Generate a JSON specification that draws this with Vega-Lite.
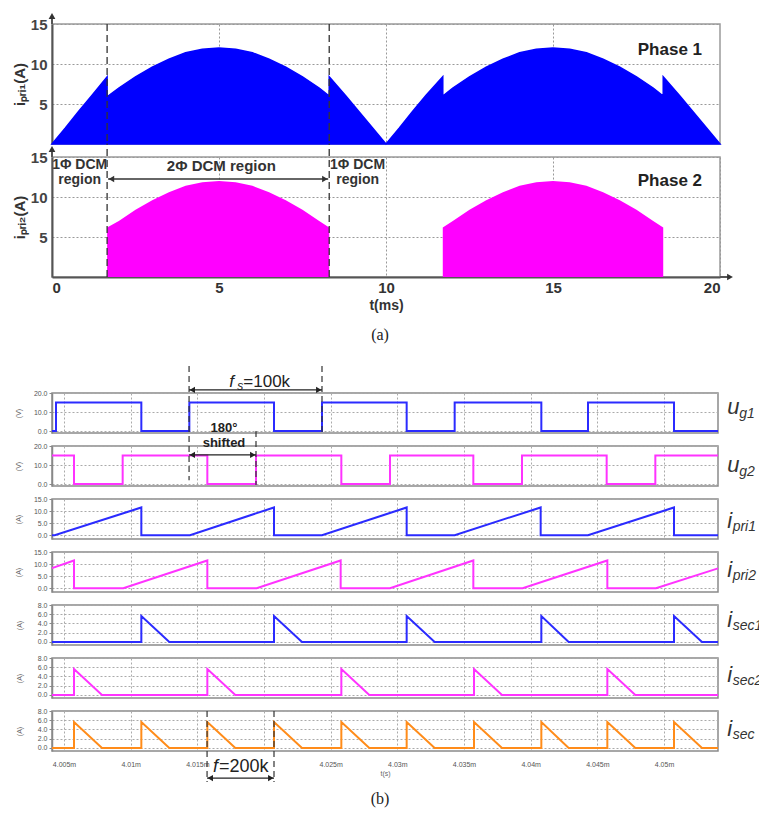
{
"$schema": "https://vega.github.io/schema/vega-lite/v6.json",
"background": "white",
"padding": {"left": 11, "top": 12, "right": 0, "bottom": 0},
"bounds": "flush",
"spacing": 13,
"config": {"font": "Liberation Sans", "view": {"stroke": null}},
"datasets": {
 "p1": [{"t":0,"v":0},{"t":0.4,"v":2.0},{"t":0.8,"v":4.1},{"t":1.2,"v":6.1},{"t":1.65,"v":8.4},{"t":1.65,"v":5.9},{"t":2.0,"v":7.0},{"t":2.5,"v":8.4},{"t":3.0,"v":9.6},{"t":3.5,"v":10.6},{"t":4.0,"v":11.4},{"t":4.5,"v":11.85},{"t":5.0,"v":12.0},{"t":5.5,"v":11.85},{"t":6.0,"v":11.4},{"t":6.5,"v":10.6},{"t":7.0,"v":9.6},{"t":7.5,"v":8.4},{"t":8.0,"v":7.0},{"t":8.3,"v":6.0},{"t":8.3,"v":8.4},{"t":8.8,"v":6.0},{"t":9.4,"v":3.0},{"t":10.0,"v":0},{"t":10.4,"v":2.0},{"t":10.8,"v":4.1},{"t":11.2,"v":6.1},{"t":11.7,"v":8.4},{"t":11.7,"v":6.0},{"t":12.0,"v":7.0},{"t":12.5,"v":8.4},{"t":13.0,"v":9.6},{"t":13.5,"v":10.6},{"t":14.0,"v":11.4},{"t":14.5,"v":11.85},{"t":15.0,"v":12.0},{"t":15.5,"v":11.85},{"t":16.0,"v":11.4},{"t":16.5,"v":10.6},{"t":17.0,"v":9.6},{"t":17.5,"v":8.4},{"t":18.0,"v":7.0},{"t":18.3,"v":6.0},{"t":18.3,"v":8.4},{"t":18.8,"v":6.0},{"t":19.4,"v":3.0},{"t":20.0,"v":0}],
 "p2": [{"t":0,"v":0},{"t":1.65,"v":0},{"t":1.65,"v":6.2},{"t":2.0,"v":7.0},{"t":2.5,"v":8.4},{"t":3.0,"v":9.6},{"t":3.5,"v":10.6},{"t":4.0,"v":11.4},{"t":4.5,"v":11.85},{"t":5.0,"v":12.0},{"t":5.5,"v":11.85},{"t":6.0,"v":11.4},{"t":6.5,"v":10.6},{"t":7.0,"v":9.6},{"t":7.5,"v":8.4},{"t":8.0,"v":7.0},{"t":8.3,"v":6.2},{"t":8.3,"v":0},{"t":11.7,"v":0},{"t":11.7,"v":6.2},{"t":12.0,"v":7.0},{"t":12.5,"v":8.4},{"t":13.0,"v":9.6},{"t":13.5,"v":10.6},{"t":14.0,"v":11.4},{"t":14.5,"v":11.85},{"t":15.0,"v":12.0},{"t":15.5,"v":11.85},{"t":16.0,"v":11.4},{"t":16.5,"v":10.6},{"t":17.0,"v":9.6},{"t":17.5,"v":8.4},{"t":18.0,"v":7.0},{"t":18.3,"v":6.2},{"t":18.3,"v":0},{"t":20,"v":0}],
 "ug1": [{"t":4004.1,"v":0},{"t":4004.4,"v":15},{"t":4010.8,"v":0},{"t":4014.4,"v":15},{"t":4020.75,"v":0},{"t":4024.35,"v":15},{"t":4030.7,"v":0},{"t":4034.3,"v":15},{"t":4040.8,"v":0},{"t":4044.3,"v":15},{"t":4050.75,"v":0},{"t":4054.05,"v":0}],
 "ug2": [{"t":4004.1,"v":15},{"t":4005.75,"v":0},{"t":4009.4,"v":15},{"t":4015.75,"v":0},{"t":4019.4,"v":15},{"t":4025.8,"v":0},{"t":4029.45,"v":15},{"t":4035.7,"v":0},{"t":4039.35,"v":15},{"t":4045.7,"v":0},{"t":4049.35,"v":15},{"t":4054.05,"v":15}],
 "ipri1": [{"t":4004.1,"v":0},{"t":4004.3,"v":0},{"t":4010.8,"v":11.5},{"t":4010.8,"v":0},{"t":4014.45,"v":0},{"t":4020.75,"v":11.5},{"t":4020.75,"v":0},{"t":4024.35,"v":0},{"t":4030.7,"v":11.5},{"t":4030.7,"v":0},{"t":4034.3,"v":0},{"t":4040.75,"v":11.5},{"t":4040.75,"v":0},{"t":4044.3,"v":0},{"t":4050.75,"v":11.5},{"t":4050.75,"v":0},{"t":4054.05,"v":0}],
 "ipri2": [{"t":4004.1,"v":8.3},{"t":4005.75,"v":11.5},{"t":4005.75,"v":0},{"t":4009.45,"v":0},{"t":4015.75,"v":11.5},{"t":4015.75,"v":0},{"t":4019.45,"v":0},{"t":4025.75,"v":11.5},{"t":4025.75,"v":0},{"t":4029.45,"v":0},{"t":4035.7,"v":11.5},{"t":4035.7,"v":0},{"t":4039.4,"v":0},{"t":4045.75,"v":11.5},{"t":4045.75,"v":0},{"t":4049.4,"v":0},{"t":4054.05,"v":8.2}],
 "isec1": [{"t":4004.1,"v":0},{"t":4010.8,"v":0},{"t":4010.8,"v":5.6},{"t":4012.9,"v":0},{"t":4020.75,"v":0},{"t":4020.75,"v":5.6},{"t":4022.85,"v":0},{"t":4030.7,"v":0},{"t":4030.7,"v":5.6},{"t":4032.8,"v":0},{"t":4040.8,"v":0},{"t":4040.8,"v":5.6},{"t":4042.85,"v":0},{"t":4050.75,"v":0},{"t":4050.75,"v":5.6},{"t":4052.85,"v":0},{"t":4054.05,"v":0}],
 "isec2": [{"t":4004.1,"v":0},{"t":4005.75,"v":0},{"t":4005.75,"v":5.6},{"t":4007.85,"v":0},{"t":4015.75,"v":0},{"t":4015.75,"v":5.6},{"t":4017.85,"v":0},{"t":4025.8,"v":0},{"t":4025.8,"v":5.6},{"t":4027.9,"v":0},{"t":4035.75,"v":0},{"t":4035.75,"v":5.6},{"t":4037.85,"v":0},{"t":4045.75,"v":0},{"t":4045.75,"v":5.6},{"t":4047.85,"v":0},{"t":4054.05,"v":0}],
 "isec": [{"t":4004.1,"v":0},{"t":4005.75,"v":0},{"t":4005.75,"v":5.6},{"t":4007.85,"v":0},{"t":4010.8,"v":0},{"t":4010.8,"v":5.6},{"t":4012.9,"v":0},{"t":4015.75,"v":0},{"t":4015.75,"v":5.6},{"t":4017.85,"v":0},{"t":4020.75,"v":0},{"t":4020.75,"v":5.6},{"t":4022.85,"v":0},{"t":4025.8,"v":0},{"t":4025.8,"v":5.6},{"t":4027.9,"v":0},{"t":4030.7,"v":0},{"t":4030.7,"v":5.6},{"t":4032.8,"v":0},{"t":4035.75,"v":0},{"t":4035.75,"v":5.6},{"t":4037.85,"v":0},{"t":4040.8,"v":0},{"t":4040.8,"v":5.6},{"t":4042.85,"v":0},{"t":4045.75,"v":0},{"t":4045.75,"v":5.6},{"t":4047.85,"v":0},{"t":4050.75,"v":0},{"t":4050.75,"v":5.6},{"t":4052.85,"v":0},{"t":4054.05,"v":0}]
},
"vconcat": [
 {
  "width": 668, "height": 120,
  "view": {"stroke": "#9a9a9a", "strokeWidth": 1.5},
  "layer": [
   {"data": {"name": "p1"},
    "mark": {"type": "area", "color": "#0000ff", "stroke": "#0000ff", "strokeWidth": 1.5, "fillOpacity": 1},
    "encoding": {
     "x": {"field": "t", "type": "quantitative", "scale": {"domain": [0, 20], "nice": false},
      "axis": {"values": [5, 10, 15], "tickCount": 20, "grid": true, "gridColor": "#999", "gridDash": [2, 2], "labels": false, "ticks": false, "domain": false, "title": null}},
     "y": {"field": "v", "type": "quantitative", "stack": null, "scale": {"domain": [0, 15], "nice": false},
      "axis": {"values": [5, 10, 15], "tickCount": 10, "grid": true, "gridColor": "#999", "gridDash": [2, 2], "ticks": false, "labelFontSize": 15, "labelFontWeight": "bold", "labelColor": "#444", "labelPadding": 5, "domainColor": "#555", "domainWidth": 2, "title": "iₚᵣᵢ₁(A)", "titleFontSize": 15, "titleFontWeight": "bold", "titleColor": "#333", "titlePadding": 3}},
     "order": {"value": null}}},
   {"data": {"values": [{"t": 1.65}, {"t": 8.3}]},
    "mark": {"type": "rule", "color": "#333", "strokeDash": [7, 4], "strokeWidth": 1.3},
    "encoding": {"x": {"field": "t", "type": "quantitative"}}},
   {"data": {"values": [{"t": 0, "v": 15, "v2": 16}]},
    "mark": {"type": "rule", "color": "#555", "strokeWidth": 2},
    "encoding": {"x": {"field": "t", "type": "quantitative"}, "y": {"field": "v", "type": "quantitative"}, "y2": {"field": "v2"}}},
   {"data": {"values": [{"t": 0, "v": 16}]},
    "mark": {"type": "point", "shape": "triangle-up", "filled": true, "color": "#333", "size": 45, "opacity": 1},
    "encoding": {"x": {"field": "t", "type": "quantitative"}, "y": {"field": "v", "type": "quantitative"}}},
   {"data": {"values": [{"t": 18.5, "v": 11.75, "label": "Phase 1"}]},
    "mark": {"type": "text", "fontSize": 17, "fontWeight": "bold", "color": "#222", "align": "center", "baseline": "middle"},
    "encoding": {"x": {"field": "t", "type": "quantitative"}, "y": {"field": "v", "type": "quantitative"}, "text": {"field": "label"}}}
  ]
 },
 {
  "width": 668, "height": 120,
  "view": {"stroke": "#9a9a9a", "strokeWidth": 1.5},
  "layer": [
   {"data": {"name": "p2"},
    "mark": {"type": "area", "color": "#ff00ff", "fillOpacity": 1},
    "encoding": {
     "x": {"field": "t", "type": "quantitative", "scale": {"domain": [0, 20], "nice": false},
      "axis": {"values": [0, 5, 10, 15, 20], "tickCount": 20, "grid": true, "gridColor": "#999", "gridDash": [2, 2], "ticks": false, "labelFontSize": 15, "labelFontWeight": "bold", "labelColor": "#333", "labelPadding": 3, "domainColor": "#555", "domainWidth": 2, "title": "t(ms)", "titleFontSize": 14, "titleFontWeight": "bold", "titleColor": "#333", "titlePadding": 3}},
     "y": {"field": "v", "type": "quantitative", "stack": null, "scale": {"domain": [0, 15], "nice": false},
      "axis": {"values": [5, 10, 15], "tickCount": 10, "grid": true, "gridColor": "#999", "gridDash": [2, 2], "ticks": false, "labelFontSize": 15, "labelFontWeight": "bold", "labelColor": "#444", "labelPadding": 5, "domainColor": "#555", "domainWidth": 2, "title": "iₚᵣᵢ₂(A)", "titleFontSize": 15, "titleFontWeight": "bold", "titleColor": "#333", "titlePadding": 3}},
     "order": {"value": null}}},
   {"data": {"values": [{"t": 1.65, "v": 0, "v2": 16.7}, {"t": 8.3, "v": 0, "v2": 16.7}]},
    "mark": {"type": "rule", "color": "#333", "strokeDash": [7, 4], "strokeWidth": 1.3},
    "encoding": {"x": {"field": "t", "type": "quantitative"}, "y": {"field": "v", "type": "quantitative"}, "y2": {"field": "v2"}}},
   {"data": {"values": [{"t": 0, "v": 15, "v2": 16}]},
    "mark": {"type": "rule", "color": "#555", "strokeWidth": 2},
    "encoding": {"x": {"field": "t", "type": "quantitative"}, "y": {"field": "v", "type": "quantitative"}, "y2": {"field": "v2"}}},
   {"data": {"values": [{"t": 20, "t2": 20.3, "v": 0}]},
    "mark": {"type": "rule", "color": "#555", "strokeWidth": 2},
    "encoding": {"x": {"field": "t", "type": "quantitative"}, "x2": {"field": "t2"}, "y": {"field": "v", "type": "quantitative"}}},
   {"data": {"values": [{"t": 0, "v": 16, "shape": "triangle-up"}, {"t": 20.3, "v": 0, "shape": "triangle-right"}]},
    "mark": {"type": "point", "filled": true, "color": "#333", "size": 45, "opacity": 1},
    "encoding": {"x": {"field": "t", "type": "quantitative"}, "y": {"field": "v", "type": "quantitative"}, "shape": {"field": "shape", "type": "nominal", "scale": null}}},
   {"data": {"values": [{"t": 1.68, "t2": 8.27, "v": 12.25}]},
    "mark": {"type": "rule", "color": "#333", "strokeWidth": 1.3},
    "encoding": {"x": {"field": "t", "type": "quantitative"}, "x2": {"field": "t2"}, "y": {"field": "v", "type": "quantitative"}}},
   {"data": {"values": [{"t": 1.78, "v": 12.25, "shape": "triangle-left"}, {"t": 8.17, "v": 12.25, "shape": "triangle-right"}]},
    "mark": {"type": "point", "filled": true, "color": "#333", "size": 40, "opacity": 1},
    "encoding": {"x": {"field": "t", "type": "quantitative"}, "y": {"field": "v", "type": "quantitative"}, "shape": {"field": "shape", "type": "nominal", "scale": null}}},
   {"data": {"values": [{"t": 0.83, "v": 14.05, "label": "1Φ DCM"}, {"t": 0.83, "v": 12.1, "label": "region"}, {"t": 9.15, "v": 14.05, "label": "1Φ DCM"}, {"t": 9.15, "v": 12.1, "label": "region"}]},
    "mark": {"type": "text", "fontSize": 14, "fontWeight": "bold", "color": "#333", "align": "center", "baseline": "middle"},
    "encoding": {"x": {"field": "t", "type": "quantitative"}, "y": {"field": "v", "type": "quantitative"}, "text": {"field": "label"}}},
   {"data": {"values": [{"t": 5.07, "v": 13.9, "label": "2Φ DCM region"}]},
    "mark": {"type": "text", "fontSize": 15, "fontWeight": "bold", "color": "#333", "align": "center", "baseline": "middle"},
    "encoding": {"x": {"field": "t", "type": "quantitative"}, "y": {"field": "v", "type": "quantitative"}, "text": {"field": "label"}}},
   {"data": {"values": [{"t": 18.5, "v": 12.0, "label": "Phase 2"}]},
    "mark": {"type": "text", "fontSize": 17, "fontWeight": "bold", "color": "#222", "align": "center", "baseline": "middle"},
    "encoding": {"x": {"field": "t", "type": "quantitative"}, "y": {"field": "v", "type": "quantitative"}, "text": {"field": "label"}}}
  ]
 },
 {
  "width": 668, "height": 90,
  "data": {"values": [{"label": "(a)"}]},
  "mark": {"type": "text", "font": "Liberation Serif", "fontSize": 16, "color": "#222", "dx": -6},
  "encoding": {"text": {"field": "label"}}
 },
 {
  "width": 666, "height": 40,
  "view": {"stroke": "#8a8a8a", "strokeWidth": 1.5},
  "layer": [
   {"data": {"name": "ug1"},
    "mark": {"type": "line", "color": "#2b2bff", "strokeWidth": 2, "interpolate": "step-after"},
    "encoding": {
     "x": {"field": "t", "type": "quantitative", "scale": {"domain": [4004.1, 4054.05], "nice": false},
      "axis": {"values": [4005, 4010, 4015, 4020, 4025, 4030, 4035, 4040, 4045, 4050], "tickCount": 20, "grid": true, "gridColor": "#aaa", "gridDash": [2, 2], "labels": false, "ticks": false, "domain": false, "title": null}},
     "y": {"field": "v", "type": "quantitative", "scale": {"domain": [-1, 20], "nice": false},
      "axis": {"values": [0, 10, 20], "tickCount": 10, "format": ".1f", "labelOverlap": false, "grid": true, "gridColor": "#aaa", "gridDash": [2, 2], "labelFontSize": 7, "labelColor": "#555", "labelPadding": 2, "tickSize": 3, "tickColor": "#888", "domainColor": "#888", "domainWidth": 1.5, "title": "(V)", "titleFontSize": 7, "titleFontWeight": "normal", "titleColor": "#666", "titlePadding": 12}},
     "order": {"value": null}}},
   {"data": {"values": [{"t": 4054.74, "v": 9, "label": "u"}]},
    "mark": {"type": "text", "fontStyle": "italic", "fontSize": 22, "align": "left", "baseline": "alphabetic", "color": "#333"},
    "encoding": {"x": {"field": "t", "type": "quantitative"}, "y": {"field": "v", "type": "quantitative"}, "text": {"field": "label"}}},
   {"data": {"values": [{"t": 4055.64, "v": 9, "label": "g1"}]},
    "mark": {"type": "text", "fontStyle": "italic", "fontSize": 14, "align": "left", "baseline": "alphabetic", "dy": 4, "color": "#333"},
    "encoding": {"x": {"field": "t", "type": "quantitative"}, "y": {"field": "v", "type": "quantitative"}, "text": {"field": "label"}}},
   {"data": {"values": [{"t": 4014.38, "v": 34.2, "v2": -7.8}, {"t": 4024.35, "v": 34.2, "v2": -1}]},
    "mark": {"type": "rule", "color": "#333", "strokeDash": [6, 4], "strokeWidth": 1.2},
    "encoding": {"x": {"field": "t", "type": "quantitative"}, "y": {"field": "v", "type": "quantitative"}, "y2": {"field": "v2"}}},
   {"data": {"values": [{"t": 4014.38, "t2": 4024.35, "v": 21.6}]},
    "mark": {"type": "rule", "color": "#222", "strokeWidth": 1.2},
    "encoding": {"x": {"field": "t", "type": "quantitative"}, "x2": {"field": "t2"}, "y": {"field": "v", "type": "quantitative"}}},
   {"data": {"values": [{"t": 4014.62, "v": 21.6, "shape": "triangle-left"}, {"t": 4024.11, "v": 21.6, "shape": "triangle-right"}]},
    "mark": {"type": "point", "filled": true, "color": "#222", "size": 40, "opacity": 1},
    "encoding": {"x": {"field": "t", "type": "quantitative"}, "y": {"field": "v", "type": "quantitative"}, "shape": {"field": "shape", "type": "nominal", "scale": null}}},
   {"data": {"values": [{"t": 4017.4, "v": 23.1, "label": "f"}]},
    "mark": {"type": "text", "fontStyle": "italic", "fontSize": 17, "align": "left", "baseline": "alphabetic", "color": "#222"},
    "encoding": {"x": {"field": "t", "type": "quantitative"}, "y": {"field": "v", "type": "quantitative"}, "text": {"field": "label"}}},
   {"data": {"values": [{"t": 4018.0, "v": 23.1, "label": "s"}]},
    "mark": {"type": "text", "fontStyle": "italic", "fontSize": 12, "align": "left", "baseline": "alphabetic", "dy": 3, "color": "#222"},
    "encoding": {"x": {"field": "t", "type": "quantitative"}, "y": {"field": "v", "type": "quantitative"}, "text": {"field": "label"}}},
   {"data": {"values": [{"t": 4018.45, "v": 23.1, "label": "=100k"}]},
    "mark": {"type": "text", "fontSize": 17, "align": "left", "baseline": "alphabetic", "color": "#222"},
    "encoding": {"x": {"field": "t", "type": "quantitative"}, "y": {"field": "v", "type": "quantitative"}, "text": {"field": "label"}}}
  ]
 },
 {
  "width": 666, "height": 40,
  "view": {"stroke": "#8a8a8a", "strokeWidth": 1.5},
  "layer": [
   {"data": {"name": "ug2"},
    "mark": {"type": "line", "color": "#ff33ff", "strokeWidth": 2, "interpolate": "step-after"},
    "encoding": {
     "x": {"field": "t", "type": "quantitative", "scale": {"domain": [4004.1, 4054.05], "nice": false},
      "axis": {"values": [4005, 4010, 4015, 4020, 4025, 4030, 4035, 4040, 4045, 4050], "tickCount": 20, "grid": true, "gridColor": "#aaa", "gridDash": [2, 2], "labels": false, "ticks": false, "domain": false, "title": null}},
     "y": {"field": "v", "type": "quantitative", "scale": {"domain": [-1, 20], "nice": false},
      "axis": {"values": [0, 10, 20], "tickCount": 10, "format": ".1f", "labelOverlap": false, "grid": true, "gridColor": "#aaa", "gridDash": [2, 2], "labelFontSize": 7, "labelColor": "#555", "labelPadding": 2, "tickSize": 3, "tickColor": "#888", "domainColor": "#888", "domainWidth": 1.5, "title": "(V)", "titleFontSize": 7, "titleFontWeight": "normal", "titleColor": "#666", "titlePadding": 12}},
     "order": {"value": null}}},
   {"data": {"values": [{"t": 4054.74, "v": 6.35, "label": "u"}]},
    "mark": {"type": "text", "fontStyle": "italic", "fontSize": 22, "align": "left", "baseline": "alphabetic", "color": "#333"},
    "encoding": {"x": {"field": "t", "type": "quantitative"}, "y": {"field": "v", "type": "quantitative"}, "text": {"field": "label"}}},
   {"data": {"values": [{"t": 4055.64, "v": 6.35, "label": "g2"}]},
    "mark": {"type": "text", "fontStyle": "italic", "fontSize": 14, "align": "left", "baseline": "alphabetic", "dy": 4, "color": "#333"},
    "encoding": {"x": {"field": "t", "type": "quantitative"}, "y": {"field": "v", "type": "quantitative"}, "text": {"field": "label"}}},
   {"data": {"values": [{"t": 4014.38, "v": 20, "v2": 2}, {"t": 4019.4, "v": 27.9, "v2": -0.5}]},
    "mark": {"type": "rule", "color": "#333", "strokeDash": [6, 4], "strokeWidth": 1.2},
    "encoding": {"x": {"field": "t", "type": "quantitative"}, "y": {"field": "v", "type": "quantitative"}, "y2": {"field": "v2"}}},
   {"data": {"values": [{"t": 4014.38, "t2": 4019.4, "v": 15.3}]},
    "mark": {"type": "rule", "color": "#222", "strokeWidth": 1.2},
    "encoding": {"x": {"field": "t", "type": "quantitative"}, "x2": {"field": "t2"}, "y": {"field": "v", "type": "quantitative"}}},
   {"data": {"values": [{"t": 4014.62, "v": 15.3, "shape": "triangle-left"}, {"t": 4019.16, "v": 15.3, "shape": "triangle-right"}]},
    "mark": {"type": "point", "filled": true, "color": "#222", "size": 40, "opacity": 1},
    "encoding": {"x": {"field": "t", "type": "quantitative"}, "y": {"field": "v", "type": "quantitative"}, "shape": {"field": "shape", "type": "nominal", "scale": null}}},
   {"data": {"values": [{"t": 4017.0, "v": 29.2, "label": "180°"}, {"t": 4017.0, "v": 21.6, "label": "shifted"}]},
    "mark": {"type": "text", "fontSize": 13, "fontWeight": "bold", "align": "center", "baseline": "middle", "color": "#222"},
    "encoding": {"x": {"field": "t", "type": "quantitative"}, "y": {"field": "v", "type": "quantitative"}, "text": {"field": "label"}}}
  ]
 },
 {
  "width": 666, "height": 40,
  "view": {"stroke": "#8a8a8a", "strokeWidth": 1.5},
  "layer": [
   {"data": {"name": "ipri1"},
    "mark": {"type": "line", "color": "#2b2bff", "strokeWidth": 2},
    "encoding": {
     "x": {"field": "t", "type": "quantitative", "scale": {"domain": [4004.1, 4054.05], "nice": false},
      "axis": {"values": [4005, 4010, 4015, 4020, 4025, 4030, 4035, 4040, 4045, 4050], "tickCount": 20, "grid": true, "gridColor": "#aaa", "gridDash": [2, 2], "labels": false, "ticks": false, "domain": false, "title": null}},
     "y": {"field": "v", "type": "quantitative", "scale": {"domain": [-1.6, 15], "nice": false},
      "axis": {"values": [0, 5, 10, 15], "tickCount": 10, "format": ".1f", "labelOverlap": false, "grid": true, "gridColor": "#aaa", "gridDash": [2, 2], "labelFontSize": 7, "labelColor": "#555", "labelPadding": 2, "tickSize": 3, "tickColor": "#888", "domainColor": "#888", "domainWidth": 1.5, "title": "(A)", "titleFontSize": 7, "titleFontWeight": "normal", "titleColor": "#666", "titlePadding": 12}},
     "order": {"value": null}}},
   {"data": {"values": [{"t": 4054.74, "v": 2.96, "label": "i"}]},
    "mark": {"type": "text", "fontStyle": "italic", "fontSize": 22, "align": "left", "baseline": "alphabetic", "color": "#333"},
    "encoding": {"x": {"field": "t", "type": "quantitative"}, "y": {"field": "v", "type": "quantitative"}, "text": {"field": "label"}}},
   {"data": {"values": [{"t": 4055.15, "v": 2.96, "label": "pri1"}]},
    "mark": {"type": "text", "fontStyle": "italic", "fontSize": 14, "align": "left", "baseline": "alphabetic", "dy": 3, "color": "#333"},
    "encoding": {"x": {"field": "t", "type": "quantitative"}, "y": {"field": "v", "type": "quantitative"}, "text": {"field": "label"}}}
  ]
 },
 {
  "width": 666, "height": 40,
  "view": {"stroke": "#8a8a8a", "strokeWidth": 1.5},
  "layer": [
   {"data": {"name": "ipri2"},
    "mark": {"type": "line", "color": "#ff33ff", "strokeWidth": 2},
    "encoding": {
     "x": {"field": "t", "type": "quantitative", "scale": {"domain": [4004.1, 4054.05], "nice": false},
      "axis": {"values": [4005, 4010, 4015, 4020, 4025, 4030, 4035, 4040, 4045, 4050], "tickCount": 20, "grid": true, "gridColor": "#aaa", "gridDash": [2, 2], "labels": false, "ticks": false, "domain": false, "title": null}},
     "y": {"field": "v", "type": "quantitative", "scale": {"domain": [-1.6, 15], "nice": false},
      "axis": {"values": [0, 5, 10, 15], "tickCount": 10, "format": ".1f", "labelOverlap": false, "grid": true, "gridColor": "#aaa", "gridDash": [2, 2], "labelFontSize": 7, "labelColor": "#555", "labelPadding": 2, "tickSize": 3, "tickColor": "#888", "domainColor": "#888", "domainWidth": 1.5, "title": "(A)", "titleFontSize": 7, "titleFontWeight": "normal", "titleColor": "#666", "titlePadding": 12}},
     "order": {"value": null}}},
   {"data": {"values": [{"t": 4054.74, "v": 4.6, "label": "i"}]},
    "mark": {"type": "text", "fontStyle": "italic", "fontSize": 22, "align": "left", "baseline": "alphabetic", "color": "#333"},
    "encoding": {"x": {"field": "t", "type": "quantitative"}, "y": {"field": "v", "type": "quantitative"}, "text": {"field": "label"}}},
   {"data": {"values": [{"t": 4055.15, "v": 4.6, "label": "pri2"}]},
    "mark": {"type": "text", "fontStyle": "italic", "fontSize": 14, "align": "left", "baseline": "alphabetic", "dy": 3, "color": "#333"},
    "encoding": {"x": {"field": "t", "type": "quantitative"}, "y": {"field": "v", "type": "quantitative"}, "text": {"field": "label"}}}
  ]
 },
 {
  "width": 666, "height": 40,
  "view": {"stroke": "#8a8a8a", "strokeWidth": 1.5},
  "layer": [
   {"data": {"name": "isec1"},
    "mark": {"type": "line", "color": "#2b2bff", "strokeWidth": 2},
    "encoding": {
     "x": {"field": "t", "type": "quantitative", "scale": {"domain": [4004.1, 4054.05], "nice": false},
      "axis": {"values": [4005, 4010, 4015, 4020, 4025, 4030, 4035, 4040, 4045, 4050], "tickCount": 20, "grid": true, "gridColor": "#aaa", "gridDash": [2, 2], "labels": false, "ticks": false, "domain": false, "title": null}},
     "y": {"field": "v", "type": "quantitative", "scale": {"domain": [-0.65, 8], "nice": false},
      "axis": {"values": [0, 2, 4, 6, 8], "tickCount": 10, "format": ".1f", "labelOverlap": false, "grid": true, "gridColor": "#aaa", "gridDash": [2, 2], "labelFontSize": 7, "labelColor": "#555", "labelPadding": 2, "tickSize": 3, "tickColor": "#888", "domainColor": "#888", "domainWidth": 1.5, "title": "(A)", "titleFontSize": 7, "titleFontWeight": "normal", "titleColor": "#666", "titlePadding": 15}},
     "order": {"value": null}}},
   {"data": {"values": [{"t": 4054.74, "v": 3.24, "label": "i"}]},
    "mark": {"type": "text", "fontStyle": "italic", "fontSize": 22, "align": "left", "baseline": "alphabetic", "color": "#333"},
    "encoding": {"x": {"field": "t", "type": "quantitative"}, "y": {"field": "v", "type": "quantitative"}, "text": {"field": "label"}}},
   {"data": {"values": [{"t": 4055.15, "v": 3.24, "label": "sec1"}]},
    "mark": {"type": "text", "fontStyle": "italic", "fontSize": 14, "align": "left", "baseline": "alphabetic", "dy": 3, "color": "#333"},
    "encoding": {"x": {"field": "t", "type": "quantitative"}, "y": {"field": "v", "type": "quantitative"}, "text": {"field": "label"}}}
  ]
 },
 {
  "width": 666, "height": 40,
  "view": {"stroke": "#8a8a8a", "strokeWidth": 1.5},
  "layer": [
   {"data": {"name": "isec2"},
    "mark": {"type": "line", "color": "#ff33ff", "strokeWidth": 2},
    "encoding": {
     "x": {"field": "t", "type": "quantitative", "scale": {"domain": [4004.1, 4054.05], "nice": false},
      "axis": {"values": [4005, 4010, 4015, 4020, 4025, 4030, 4035, 4040, 4045, 4050], "tickCount": 20, "grid": true, "gridColor": "#aaa", "gridDash": [2, 2], "labels": false, "ticks": false, "domain": false, "title": null}},
     "y": {"field": "v", "type": "quantitative", "scale": {"domain": [-0.65, 8], "nice": false},
      "axis": {"values": [0, 2, 4, 6, 8], "tickCount": 10, "format": ".1f", "labelOverlap": false, "grid": true, "gridColor": "#aaa", "gridDash": [2, 2], "labelFontSize": 7, "labelColor": "#555", "labelPadding": 2, "tickSize": 3, "tickColor": "#888", "domainColor": "#888", "domainWidth": 1.5, "title": "(A)", "titleFontSize": 7, "titleFontWeight": "normal", "titleColor": "#666", "titlePadding": 15}},
     "order": {"value": null}}},
   {"data": {"values": [{"t": 4054.74, "v": 2.81, "label": "i"}]},
    "mark": {"type": "text", "fontStyle": "italic", "fontSize": 22, "align": "left", "baseline": "alphabetic", "color": "#333"},
    "encoding": {"x": {"field": "t", "type": "quantitative"}, "y": {"field": "v", "type": "quantitative"}, "text": {"field": "label"}}},
   {"data": {"values": [{"t": 4055.15, "v": 2.81, "label": "sec2"}]},
    "mark": {"type": "text", "fontStyle": "italic", "fontSize": 14, "align": "left", "baseline": "alphabetic", "dy": 3, "color": "#333"},
    "encoding": {"x": {"field": "t", "type": "quantitative"}, "y": {"field": "v", "type": "quantitative"}, "text": {"field": "label"}}}
  ]
 },
 {
  "width": 666, "height": 40,
  "view": {"stroke": "#8a8a8a", "strokeWidth": 1.5},
  "layer": [
   {"data": {"name": "isec"},
    "mark": {"type": "line", "color": "#ff8c1a", "strokeWidth": 2},
    "encoding": {
     "x": {"field": "t", "type": "quantitative", "scale": {"domain": [4004.1, 4054.05], "nice": false},
      "axis": {"values": [4005, 4010, 4015, 4020, 4025, 4030, 4035, 4040, 4045, 4050], "tickCount": 20, "grid": true, "gridColor": "#aaa", "gridDash": [2, 2], "labels": true, "labelExpr": "datum.value == 4020 ? '' : format(datum.value / 1000, '.3~f') + 'm'", "labelFontSize": 7, "labelColor": "#555", "labelPadding": 9, "ticks": false, "domain": false, "title": "t(s)", "titleFontSize": 7, "titleFontWeight": "normal", "titleColor": "#666", "titlePadding": 2}},
     "y": {"field": "v", "type": "quantitative", "scale": {"domain": [-0.65, 8], "nice": false},
      "axis": {"values": [0, 2, 4, 6, 8], "tickCount": 10, "format": ".1f", "labelOverlap": false, "grid": true, "gridColor": "#aaa", "gridDash": [2, 2], "labelFontSize": 7, "labelColor": "#555", "labelPadding": 2, "tickSize": 3, "tickColor": "#888", "domainColor": "#888", "domainWidth": 1.5, "title": "(A)", "titleFontSize": 7, "titleFontWeight": "normal", "titleColor": "#666", "titlePadding": 15}},
     "order": {"value": null}}},
   {"data": {"values": [{"t": 4054.74, "v": 2.6, "label": "i"}]},
    "mark": {"type": "text", "fontStyle": "italic", "fontSize": 22, "align": "left", "baseline": "alphabetic", "color": "#333"},
    "encoding": {"x": {"field": "t", "type": "quantitative"}, "y": {"field": "v", "type": "quantitative"}, "text": {"field": "label"}}},
   {"data": {"values": [{"t": 4055.15, "v": 2.6, "label": "sec"}]},
    "mark": {"type": "text", "fontStyle": "italic", "fontSize": 14, "align": "left", "baseline": "alphabetic", "dy": 3, "color": "#333"},
    "encoding": {"x": {"field": "t", "type": "quantitative"}, "y": {"field": "v", "type": "quantitative"}, "text": {"field": "label"}}},
   {"data": {"values": [{"t": 4015.73, "v": 8, "v2": -7.35}, {"t": 4020.75, "v": 8, "v2": -7.35}]},
    "mark": {"type": "rule", "color": "#333", "strokeDash": [6, 4], "strokeWidth": 1.2},
    "encoding": {"x": {"field": "t", "type": "quantitative"}, "y": {"field": "v", "type": "quantitative"}, "y2": {"field": "v2"}}},
   {"data": {"values": [{"t": 4015.73, "t2": 4020.75, "v": -6.5}]},
    "mark": {"type": "rule", "color": "#222", "strokeWidth": 1.2},
    "encoding": {"x": {"field": "t", "type": "quantitative"}, "x2": {"field": "t2"}, "y": {"field": "v", "type": "quantitative"}}},
   {"data": {"values": [{"t": 4015.97, "v": -6.5, "shape": "triangle-left"}, {"t": 4020.51, "v": -6.5, "shape": "triangle-right"}]},
    "mark": {"type": "point", "filled": true, "color": "#222", "size": 40, "opacity": 1},
    "encoding": {"x": {"field": "t", "type": "quantitative"}, "y": {"field": "v", "type": "quantitative"}, "shape": {"field": "shape", "type": "nominal", "scale": null}}},
   {"data": {"values": [{"t": 4016.18, "v": -5.2, "label": "f"}]},
    "mark": {"type": "text", "fontStyle": "italic", "fontSize": 18, "align": "left", "baseline": "alphabetic", "color": "#222"},
    "encoding": {"x": {"field": "t", "type": "quantitative"}, "y": {"field": "v", "type": "quantitative"}, "text": {"field": "label"}}},
   {"data": {"values": [{"t": 4016.63, "v": -5.2, "label": "=200k"}]},
    "mark": {"type": "text", "fontSize": 18, "align": "left", "baseline": "alphabetic", "color": "#222"},
    "encoding": {"x": {"field": "t", "type": "quantitative"}, "y": {"field": "v", "type": "quantitative"}, "text": {"field": "label"}}},
   {"data": {"values": [{"t": 4028.7, "v": -11, "label": "(b)"}]},
    "mark": {"type": "text", "font": "Liberation Serif", "fontSize": 16, "align": "center", "baseline": "middle", "color": "#222"},
    "encoding": {"x": {"field": "t", "type": "quantitative"}, "y": {"field": "v", "type": "quantitative"}, "text": {"field": "label"}}}
  ]
 }
]
}
